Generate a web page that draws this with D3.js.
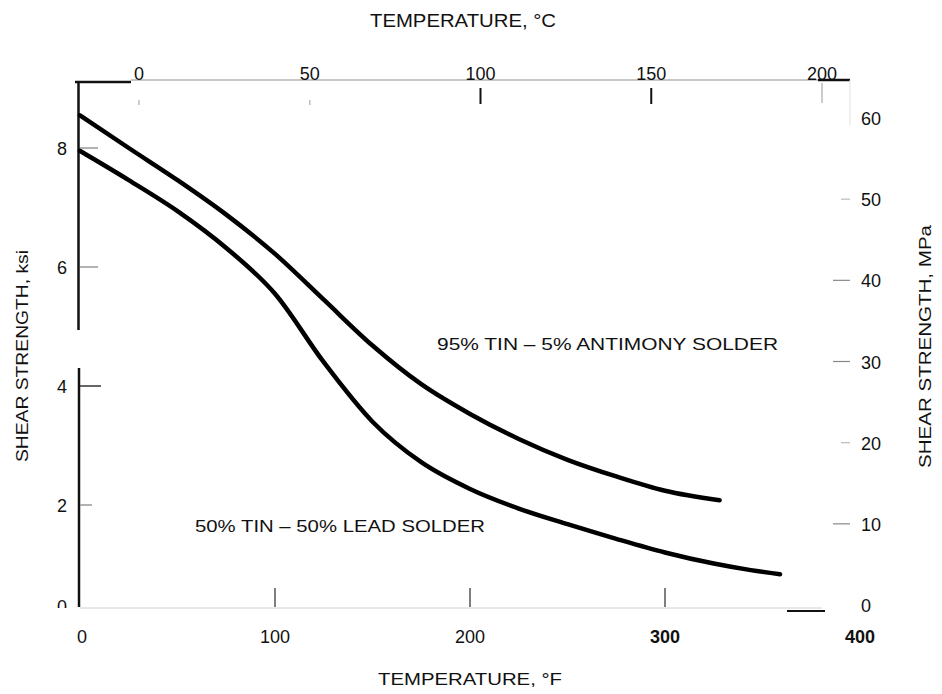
<!DOCTYPE html>
<html><head><meta charset="utf-8">
<script src="https://cdn.jsdelivr.net/npm/d3@7"></script>
<style>
body{margin:0;background:#fff}
svg{display:block}
text{font-family:"Liberation Sans",Arial,sans-serif;fill:#111}
</style></head>
<body><svg id="c" width="942" height="694"></svg>
<script>
// ---- data ----
const tinAntimonyF   = [0, 25, 50, 75, 100, 125, 150, 175, 200, 225, 250, 275, 300, 328];
const tinAntimonyKsi = [8.55, 8.00, 7.46, 6.88, 6.22, 5.45, 4.68, 4.03, 3.53, 3.11, 2.76, 2.48, 2.24, 2.08];
const tinLeadF       = [0, 25, 50, 75, 100, 125, 150, 175, 200, 225, 250, 275, 300, 325, 344, 359];
const tinLeadKsi     = [7.95, 7.46, 6.94, 6.32, 5.55, 4.40, 3.40, 2.72, 2.27, 1.93, 1.62, 1.33, 1.06, 0.84, 0.71, 0.63];
const fTicks   = [0, 100, 200, 300, 400];
const cTicks   = [0, 50, 100, 150, 200];
const ksiTicks = [0, 2, 4, 6, 8];
const mpaTicks = [0, 10, 20, 30, 40, 50, 60];
const seriesLabels = ["95% TIN \u2013 5% ANTIMONY SOLDER", "50% TIN \u2013 50% LEAD SOLDER"];

// ---- scales ----
const x  = d3.scaleLinear().domain([0, 400]).range([80, 860]);
const xC = d3.scaleLinear().domain([0, 200]).range([139, 822]);
const y  = d3.scaleLinear().domain([0, 2, 8]).range([606, 505, 148]);
const yM = d3.scaleLinear().domain([0, 60]).range([605, 118]);

const svg = d3.select("#c");
const line = (a, b, c, d, col, w) => svg.append("line").attr("x1", a).attr("y1", b).attr("x2", c).attr("y2", d)
  .attr("stroke", col).attr("stroke-width", w);

// ---- frame pieces ----
line(75, 82, 131, 82, "#111", 2.5);
line(131, 80, 818, 80, "#b5b5b5", 1.5);
line(818, 80, 850, 80, "#111", 2.5);
line(850, 80, 850, 125, "#e2e2e2", 1);
line(78.5, 82, 78.5, 330, "#111", 2.5);
line(79, 368, 79, 607, "#111", 2.5);
line(80, 608, 822, 608, "#d0d0d0", 1);
line(787, 611, 825, 611, "#111", 2);

// ---- left ticks & labels ----
const defs = svg.append("defs");
defs.append("clipPath").attr("id", "lc").append("rect").attr("x", 0).attr("y", 0).attr("width", 80).attr("height", 608);
ksiTicks.forEach(v => {
  if (v > 0) line(80, y(v), v === 2 ? 92 : (v === 4 ? 101 : 98), y(v), v === 4 ? "#333" : "#999", 1.5);
});
svg.append("g").attr("clip-path", "url(#lc)").selectAll("text").data(ksiTicks).join("text")
  .attr("x", 62).attr("y", d => y(d) + 6.5).attr("text-anchor", "middle").attr("font-size", 18).text(d => d);

// ---- right ticks & labels ----
mpaTicks.forEach(v => {
  if (v > 0 && v < 60) line((v === 20 || v === 50) ? 841 : 833, yM(v), 850, yM(v), (v === 20 || v === 50) ? "#bbb" : "#888", 1.2);
});
svg.append("g").selectAll("text").data(mpaTicks).join("text")
  .attr("x", 861).attr("y", d => yM(d) + 7).attr("font-size", 18).text(d => d);

// ---- bottom ticks & labels ----
fTicks.forEach(v => { if (v > 0 && v < 400) line(x(v), 588, x(v), 607, "#555", 1.5); });
svg.append("g").selectAll("text").data(fTicks).join("text")
  .attr("x", d => d === 0 ? x(d) + 2 : x(d)).attr("y", 643).attr("text-anchor", "middle").attr("font-size", 18)
  .attr("font-weight", d => d >= 300 ? "bold" : "normal").text(d => d);

// ---- top ticks & labels ----
cTicks.forEach(v => {
  if (v === 100 || v === 150) line(xC(v), 88, xC(v), 104, "#111", 2);
  else if (v === 200) line(xC(v), 83, xC(v), 103, "#bbb", 1.5);
  else line(xC(v), 100, xC(v), 105, "#bbb", 1.5);
});
svg.append("g").selectAll("text").data(cTicks).join("text")
  .attr("x", d => xC(d)).attr("y", 80).attr("text-anchor", "middle").attr("font-size", 18).text(d => d);

// ---- titles ----
svg.append("text").attr("x", 370).attr("y", 27).attr("font-size", 18).attr("textLength", 186)
  .attr("lengthAdjust", "spacingAndGlyphs").text("TEMPERATURE, \u00B0C");
svg.append("text").attr("x", 378).attr("y", 685).attr("font-size", 17).attr("textLength", 184)
  .attr("lengthAdjust", "spacingAndGlyphs").text("TEMPERATURE, \u00B0F");
svg.append("text").attr("transform", "translate(28,462) rotate(-90)").attr("font-size", 17)
  .attr("textLength", 212).attr("lengthAdjust", "spacingAndGlyphs").text("SHEAR STRENGTH, ksi");
svg.append("text").attr("transform", "translate(931,468) rotate(-90)").attr("font-size", 17)
  .attr("textLength", 243).attr("lengthAdjust", "spacingAndGlyphs").text("SHEAR STRENGTH, MPa");

// ---- curves ----
const gen = d3.line().x(d => x(d[0])).y(d => y(d[1])).curve(d3.curveMonotoneX);
const s1 = tinAntimonyF.map((f, i) => [f, tinAntimonyKsi[i]]);
const s2 = tinLeadF.map((f, i) => [f, tinLeadKsi[i]]);
[s1, s2].forEach(s => svg.append("path").attr("d", gen(s)).attr("fill", "none")
  .attr("stroke", "#000").attr("stroke-width", 4.5).attr("stroke-linecap", "round"));

// ---- annotations ----
svg.append("text").attr("x", 437).attr("y", 350).attr("font-size", 17).attr("textLength", 341)
  .attr("lengthAdjust", "spacingAndGlyphs").text(seriesLabels[0]);
svg.append("text").attr("x", 195).attr("y", 532).attr("font-size", 17).attr("textLength", 290)
  .attr("lengthAdjust", "spacingAndGlyphs").text(seriesLabels[1]);
</script></body></html>
